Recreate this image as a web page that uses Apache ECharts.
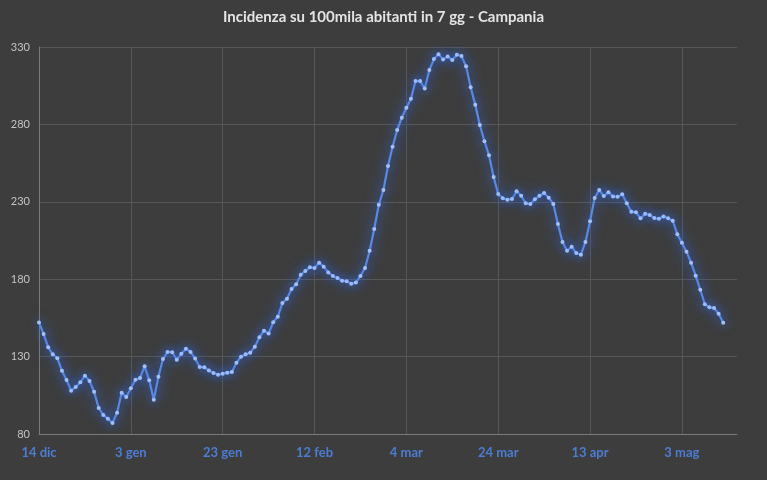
<!DOCTYPE html>
<html>
<head>
<meta charset="utf-8">
<script src="https://cdn.jsdelivr.net/npm/echarts@6/dist/echarts.min.js"></script>
<style>
  html, body { margin: 0; padding: 0; background: #3d3d3d; }
  #chart { width: 767px; height: 480px; }
</style>
</head>
<body>
<div id="chart"></div>
<script>
// daily values from 14 dic to 12 mag
const incidenza = [
  152, 144.6, 136, 131.5, 128.9, 120.9, 114.9, 108, 110.4, 113.4,
  117.7, 114.2, 107.3, 96.8, 92.3, 89.9, 87.1, 93.8, 106.7, 103.9,
  109.5, 115.1, 116.2, 123.7, 114.7, 102.2, 117, 128.4, 133, 132.8,
  128, 131.9, 135.1, 133, 128.7, 123.3, 123.1, 121.1, 119.4, 118.3,
  119, 119.6, 120, 126.1, 129.9, 131.5, 132.5, 136.4, 142.5, 146.7,
  145, 152.2, 155.8, 164.6, 167.4, 173.7, 176.8, 182.8, 185.3, 187.7,
  187.2, 190.7, 188.1, 184.4, 182.1, 180.8, 179, 178.6, 177.1, 177.8,
  182.1, 187.2, 198.4, 212.4, 228.1, 237.6, 253.1, 265.6, 276.4, 284.3,
  290.8, 296.6, 308, 308, 303.2, 315.1, 322.2, 325.3, 322, 323.8,
  321.6, 325, 324.2, 317.5, 304, 292.7, 279.6, 269.1, 260, 246,
  235, 232.3, 231.4, 231.8, 236.8, 233.9, 229, 228.6, 231.6, 233.9,
  235.7, 232.6, 228.6, 215.7, 204, 198.4, 201, 196.9, 195.8, 204,
  217.4, 232.5, 237.6, 233.7, 236.1, 233.5, 233.3, 234.8, 229, 223.6,
  223.2, 219.4, 222.2, 221.4, 219.5, 219, 220.5, 219.3, 217.8, 209.1,
  203.5, 197.8, 190.7, 182.3, 173.2, 163.8, 161.8, 161.4, 157.7, 151.9
];

const mesi = ['gen', 'feb', 'mar', 'apr', 'mag', 'giu', 'lug', 'ago', 'set', 'ott', 'nov', 'dic'];
const startDate = new Date(2020, 11, 14);
const totalDays = 153; // the axis runs a few days past the last value

const giorni = [];
for (let i = 0; i < totalDays; i++) {
  const d = new Date(startDate.getFullYear(), startDate.getMonth(), startDate.getDate() + i);
  giorni.push(d.getDate() + ' ' + mesi[d.getMonth()]);
}

const chart = echarts.init(document.getElementById('chart'));

const option = {
  backgroundColor: '#3d3d3d',
  animation: false,
  title: {
    text: 'Incidenza su 100mila abitanti in 7 gg - Campania',
    left: 'center',
    top: 5,
    textStyle: { color: '#e4e4e4', fontSize: 15, fontWeight: 'bold', fontFamily: 'Lato' }
  },
  grid: { left: 39, right: 30, top: 47, bottom: 46 },
  xAxis: {
    type: 'category',
    data: giorni,
    boundaryGap: false,
    axisLine: { lineStyle: { color: '#7a7a7a', width: 1 } },
    axisTick: { show: false },
    axisLabel: {
      interval: 19,
      color: '#4c7dd4',
      fontSize: 13,
      fontWeight: 'bold',
      fontFamily: 'Lato',
      margin: 12
    },
    splitLine: { show: true, interval: 19, lineStyle: { color: '#575757', width: 1 } }
  },
  yAxis: {
    type: 'value',
    min: 80,
    max: 330,
    interval: 50,
    axisLine: { show: true, lineStyle: { color: '#7a7a7a', width: 1 } },
    axisTick: { show: false },
    axisLabel: { color: '#c4c4c4', fontSize: 11, fontFamily: 'Lato', margin: 9 },
    splitLine: { lineStyle: { color: '#575757', width: 1 } }
  },
  series: [
    {
      type: 'line',
      data: incidenza,
      symbol: 'circle',
      symbolSize: 4,
      showSymbol: true,
      showAllSymbol: true,
      lineStyle: {
        color: '#5a8be6',
        width: 2.2,
        shadowBlur: 14,
        shadowColor: 'rgba(55,115,255,1)'
      },
      itemStyle: {
        color: '#a3c1f7',
        borderWidth: 0,
        shadowBlur: 8,
        shadowColor: 'rgba(55,115,255,1)'
      }
    }
  ]
};

chart.setOption(option);
</script>
</body>
</html>
